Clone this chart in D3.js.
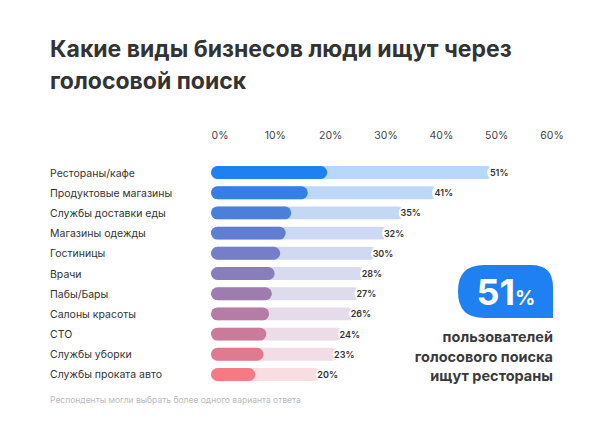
<!DOCTYPE html><html><head><meta charset="utf-8"><script src="https://cdn.jsdelivr.net/npm/d3@7"></script>
<style>body{margin:0;background:#fff}text{font-family:Inter,"Noto Sans",sans-serif}</style></head><body><svg id="c" width="597" height="425"></svg>
<script>
const categories=["Рестораны/кафе","Продуктовые магазины","Службы доставки еды","Магазины одежды","Гостиницы","Врачи","Пабы/Бары","Салоны красоты","СТО","Службы уборки","Службы проката авто"];
const values=[51,41,35,32,30,28,27,26,24,23,20];
const darkPart=[21,17.5,14.5,13.5,12.5,11.5,11,10.5,10,9.5,8];
const ticks=[0,10,20,30,40,50,60];
const svg=d3.select("#c");
const x=d3.scaleLinear().domain([0,60]).range([211,543]);
const y=d3.scaleBand().domain(categories).range([162,385]).paddingInner(0.36).paddingOuter(0.2);
const col=d3.scaleLinear().domain([0,categories.length-1]).range(["#1f80f2","#f57a84"]).interpolate(d3.interpolateRgb);
const light=d3.scaleLinear().domain([0,categories.length-1]).range(["#b7d7fb","#f8dde2"]);
svg.append("text").attr("x",50).attr("y",57).attr("font-size",23).attr("font-weight",700).attr("fill","#333").text("Какие виды бизнесов люди ищут через");
svg.append("text").attr("x",50).attr("y",89).attr("font-size",23).attr("font-weight",700).attr("fill","#333").text("голосовой поиск");
svg.selectAll(".t").data(ticks).join("text").attr("x",d=>x(d)+9).attr("y",139).attr("text-anchor","middle").attr("font-size",10.5).attr("fill","#444").text(d=>d+"%");
const g=svg.selectAll(".r").data(categories).join("g");
const h=y.bandwidth();
g.append("text").attr("x",50).attr("y",d=>y(d)+h/2+4).attr("font-size",10.5).attr("fill","#333").text(d=>d);
g.append("rect").attr("x",x(0)).attr("y",d=>y(d)).attr("height",h).attr("rx",h/2).attr("width",(d,i)=>x(values[i])-x(0)).attr("fill",(d,i)=>light(i));
g.append("rect").attr("x",x(0)).attr("y",d=>y(d)).attr("height",h).attr("rx",h/2).attr("width",(d,i)=>x(darkPart[i])-x(0)).attr("fill",(d,i)=>col(i));
g.append("rect").attr("x",(d,i)=>x(values[i])-6).attr("y",d=>y(d)-1).attr("height",h+2).attr("width",24).attr("rx",(h+2)/2).attr("fill","#fff");
g.append("text").attr("x",(d,i)=>x(values[i])+6).attr("y",d=>y(d)+h/2+3.5).attr("text-anchor","middle").attr("font-size",9).attr("font-weight",600).attr("fill","#333").text((d,i)=>values[i]+"%");
svg.append("path").attr("d","M484,265 H531 Q553,265 553,287 V318 H484 Q458,318 458,292 V291 Q458,265 484,265 Z").attr("fill","#1f80f2");
const bt=svg.append("text").attr("x",506).attr("y",305).attr("text-anchor","middle").attr("fill","#fff").attr("font-weight",700);
bt.append("tspan").attr("font-size",36).text(values[0]);
bt.append("tspan").attr("font-size",20).text("%");
["пользователей","голосового поиска","ищут рестораны"].forEach((t,i)=>svg.append("text").attr("x",553).attr("y",342+i*19.5).attr("text-anchor","end").attr("font-size",14.5).attr("font-weight",700).attr("fill","#3a3a3a").text(t));
svg.append("text").attr("x",50).attr("y",403).attr("font-size",8.5).attr("fill","#bbb").text("Респонденты могли выбрать более одного варианта ответа");
</script></body></html>
